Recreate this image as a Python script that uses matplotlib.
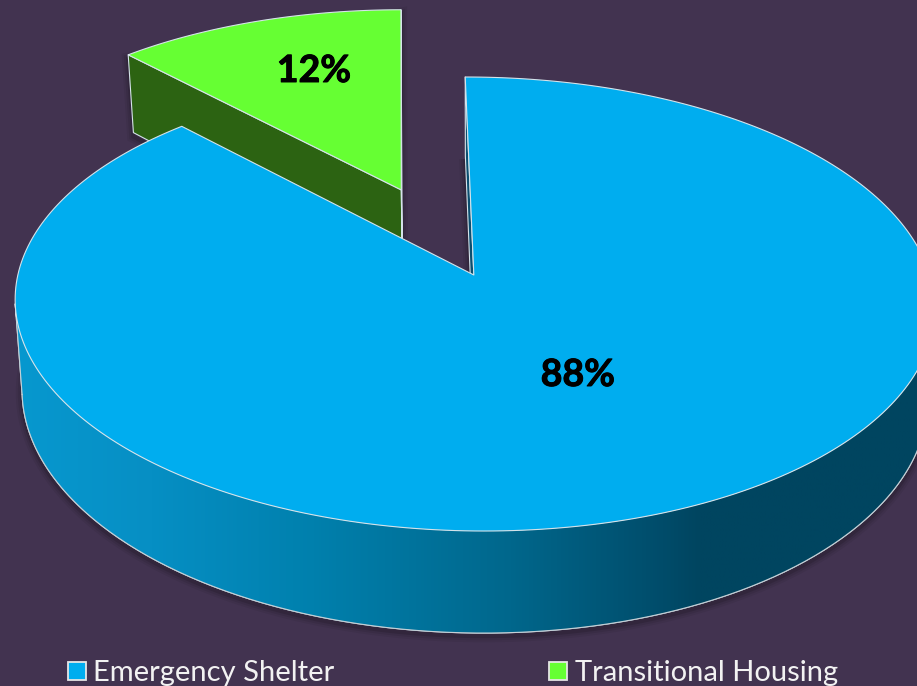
import numpy as np
import matplotlib
matplotlib.use("Agg")
import matplotlib.pyplot as plt
import matplotlib.patheffects as pe
from matplotlib.colors import LinearSegmentedColormap
from matplotlib.patches import Polygon, Rectangle

categories = ["Emergency Shelter", "Transitional Housing"]
values = [88, 12]

W, H = 917, 686
BG = "#423350"
TOP_COLORS = ["#00adef", "#66ff33"]
EDGE = "#d5e3ea"

# picture geometry of the tilted pie: ellipse centre, half axes, perspective
CX, CY = 475, 304
A, B, K, Q = 456, 227, 0.1278, 29
SHEAR = 0.04
DEPTH = 89
SHRINK = 0.985
START = -0.1   # degrees, clockwise from 12 o'clock
EXPLODE = 0.431


def project(u, v, bottom=False):
    den = 1 + K * v
    y = CY - (B * v + Q) / den
    x = CX + A * u / den + SHEAR * (y - CY)
    if bottom:
        x = CX + (x - CX) * SHRINK
        y = y + DEPTH / den
    return x, y


def arc(a0, a1, off=(0, 0), bottom=False, n=300):
    t = np.radians(np.linspace(a0, a1, n))
    return project(np.sin(t) + off[0], np.cos(t) + off[1], bottom)


def apex(off=(0, 0), bottom=False):
    return project(np.array([off[0]]), np.array([off[1]]), bottom)


def poly(ax, x, y, color, z, lw=0.8, edge=EDGE):
    p = Polygon(np.column_stack([x, y]), closed=True, facecolor=color, edgecolor=edge, linewidth=lw, zorder=z, joinstyle="round")
    ax.add_patch(p)
    return p


def shadow(ax, x, y, z, dy=4):
    for lw, al in [(9, 0.06), (6, 0.08), (3, 0.12)]:
        ax.add_patch(Polygon(np.column_stack([x, y + dy]), closed=True, facecolor="none", edgecolor="black", alpha=al, linewidth=lw, zorder=z))


fig = plt.figure(figsize=(W / 100, H / 100), dpi=100, facecolor=BG)
ax = fig.add_axes([0, 0, 1, 1])
ax.set_xlim(0, W)
ax.set_ylim(H, 0)
ax.axis("off")

sweeps = np.array(values) / sum(values) * 360
a0_main, a1_main = START, START + sweeps[0]
a0_green, a1_green = a1_main, a1_main + sweeps[1]

# small slice, pulled out along its middle direction
mid = np.radians((a0_green + a1_green) / 2)
off = (EXPLODE * np.sin(mid), EXPLODE * np.cos(mid))

gx, gy = arc(a0_green, a1_green, off)
gax, gay = apex(off)
gbx, gby = arc(a0_green, a1_green, off, bottom=True)
gabx, gaby = apex(off, bottom=True)
shadow(ax, np.r_[gx[0], gbx[0], gabx, gax, gx[-1]], np.r_[gy[0], gby[0], gaby, gay, gy[-1]], 1)
poly(ax, np.r_[gx[0], gax, gabx, gbx[0]], np.r_[gy[0], gay, gaby, gby[0]], "#2c6312", 2)
poly(ax, np.r_[gax, gx[-1], gabx], np.r_[gay, gy[-1], gaby], "#2c6312", 2)
poly(ax, np.r_[gax, gx], np.r_[gay, gy], TOP_COLORS[1], 3)

# big slice: cut face, gradient wall, top
mx, my = arc(a0_main, a1_main)
max_, may = apex()
bx, by = arc(a0_main, a1_main, bottom=True)
babx, baby = apex(bottom=True)
shadow(ax, np.r_[bx, babx], np.r_[by, baby], 4, dy=3)
poly(ax, np.r_[mx[0], max_, babx, bx[0]], np.r_[my[0], may, baby, by[0]], "#0b4f70", 5)

# wall runs between the widest points of the ellipse
t0 = np.degrees(np.arccos(-Q / B))
wx_top, wy_top = arc(t0, 360 - t0)
wx_bot, wy_bot = arc(t0, 360 - t0, bottom=True)
wall_x = np.r_[wx_top, wx_bot[::-1]]
wall_y = np.r_[wy_top, wy_bot[::-1]]
wall = poly(ax, wall_x, wall_y, "none", 6)
cmap = LinearSegmentedColormap.from_list("wall", [
    (0.0, "#0798cf"), (0.15, "#068fc4"), (0.33, "#0080ad"),
    (0.55, "#00678c"), (0.72, "#004c6a"), (0.76, "#004560"), (1.0, "#004560")])
im = ax.imshow(np.linspace(0, 1, 512).reshape(1, -1), extent=[15, W, 650, 280], cmap=cmap, aspect="auto", zorder=6, interpolation="bilinear")
im.set_clip_path(wall)
ax.plot(wx_bot, wy_bot, color="#c4d0d6", lw=0.8, zorder=7)
ax.plot([wx_top[-1], wx_bot[-1]], [wy_top[-1], wy_bot[-1]], color="#c4d0d6", lw=0.8, zorder=7)
ax.set_xlim(0, W)
ax.set_ylim(H, 0)

poly(ax, np.r_[max_, mx], np.r_[may, my], TOP_COLORS[0], 8)

bold = [pe.withStroke(linewidth=0.7, foreground="black")]
ax.text(578, 375, f"{values[0]}%", fontsize=27, fontweight="bold", family="Lato", color="black", ha="center", va="center", zorder=10, path_effects=bold)
ax.text(314, 71, f"{values[1]}%", fontsize=27, fontweight="bold", family="Lato", color="black", ha="center", va="center", zorder=10, path_effects=bold)

# legend row
for sx, tx, name, col in zip([67.5, 548.5], [93, 575], categories, TOP_COLORS):
    ax.add_patch(Rectangle((sx, 662), 18, 18, facecolor=col, edgecolor="#e6e6e6", linewidth=1.3, zorder=10))
    ax.text(tx, 672.5, name, fontsize=21, family="Lato", color="#f2f2f2", ha="left", va="center", zorder=10)

fig.savefig("out.png", dpi=100, facecolor=BG)
